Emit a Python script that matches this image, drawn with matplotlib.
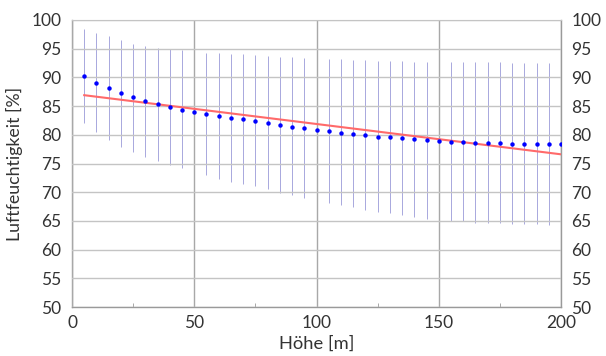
import matplotlib
matplotlib.use("Agg")
import matplotlib.pyplot as plt
from matplotlib.ticker import MultipleLocator

plt.rcParams['font.family'] = ['Lato', 'DejaVu Sans']

heights = [5, 10, 15, 20, 25, 30, 35, 40, 45, 50,
           55, 60, 65, 70, 75, 80, 85, 90, 95, 100,
           105, 110, 115, 120, 125, 130, 135, 140, 145, 150,
           155, 160, 165, 170, 175, 180, 185, 190, 195, 200]
mean_rh = [90.2, 89.1, 88.1, 87.2, 86.5, 85.9, 85.3, 84.8, 84.4, 83.9,
           83.6, 83.3, 83.0, 82.75, 82.4, 82.05, 81.7, 81.4, 81.2, 80.9,
           80.6, 80.4, 80.1, 79.9, 79.7, 79.55, 79.4, 79.2, 79.1, 78.9,
           78.8, 78.7, 78.6, 78.6, 78.5, 78.4, 78.4, 78.35, 78.35, 78.35]
upper_rh = [98.4, 97.8, 97.2, 96.5, 95.9, 95.5, 95.1, 94.9, 94.7, 94.5,
            94.3, 94.2, 94.1, 94.0, 93.9, 93.7, 93.6, 93.5, 93.4, 93.3,
            93.2, 93.15, 93.0, 93.0, 92.9, 92.9, 92.8, 92.7, 92.7, 92.6,
            92.6, 92.6, 92.6, 92.6, 92.6, 92.5, 92.5, 92.5, 92.5, 92.5]
lower_rh = [82.0, 80.5, 79.1, 77.9, 77.0, 76.2, 75.4, 74.8, 74.2, 73.6,
            73.0, 72.3, 71.8, 71.4, 71.0, 70.5, 69.8, 69.5, 69.0, 68.6,
            68.1, 67.8, 67.4, 66.9, 66.6, 66.3, 66.0, 65.7, 65.4, 65.1,
            64.9, 64.9, 64.7, 64.7, 64.6, 64.5, 64.5, 64.4, 64.3, 64.3]
fit_x = [5, 200]
fit_y = [86.9, 76.6]

fig = plt.figure(figsize=(6.06, 3.56), dpi=100)
ax = fig.add_axes([72/606, 1-307/356, (561-72)/606, (307-20)/356])

ax.vlines(heights, lower_rh, upper_rh, colors='#9a9ad8', linewidth=0.6, zorder=1)
ax.plot(fit_x, fit_y, color='#ff6a6a', linewidth=1.5, zorder=3)
ax.plot(heights, mean_rh, linestyle='none', marker='o', markersize=3.2,
        color='#0000ff', markeredgewidth=0, zorder=4)

ax.set_xlim(0, 200)
ax.set_ylim(50, 100)
ax.xaxis.set_major_locator(MultipleLocator(50))
ax.xaxis.set_minor_locator(MultipleLocator(25))
ax.yaxis.set_major_locator(MultipleLocator(5))

ax.grid(axis='y', which='major', color='#c4c4c4', linewidth=1.0, zorder=2)
ax.grid(axis='x', which='major', color='#a8a8a8', linewidth=1.0, zorder=2)
ax.set_axisbelow(False)

for side in ['left', 'bottom', 'right']:
    ax.spines[side].set_color('#9a9a9a')
    ax.spines[side].set_linewidth(1.0)
ax.spines['top'].set_color('#c4c4c4')

ax.tick_params(axis='y', which='both', left=False, right=False,
               labelleft=True, labelright=True, labelsize=12.5,
               colors='#333333', pad=4)
ax.tick_params(axis='x', which='major', length=0, labelsize=12.5,
               colors='#333333', pad=6)
ax.tick_params(axis='x', which='minor', direction='in', length=3,
               color='#9a9a9a')

ax.set_xlabel('Höhe [m]', fontsize=13.2, color='#333333', labelpad=3)
ax.set_ylabel('Luftfeuchtigkeit [%]', fontsize=12.8, color='#333333', labelpad=6)

fig.savefig('out.png', dpi=100)
